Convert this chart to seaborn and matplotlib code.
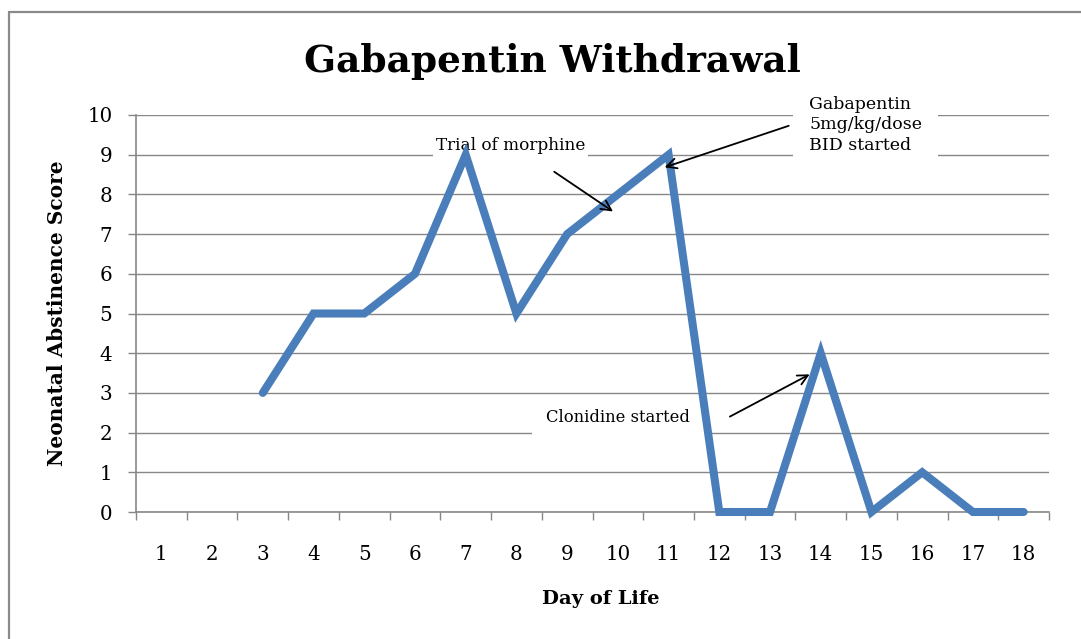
import numpy as np
import pandas as pd
import matplotlib
matplotlib.use("Agg")
import matplotlib.pyplot as plt
from matplotlib.lines import Line2D
import seaborn as sns

# ---- data ----
days = list(range(1, 19))
scores = [np.nan, np.nan, 3, 5, 5, 6, 9, 5, 7, 8, 9, 0, 0, 4, 0, 1, 0, 0]
yticks = list(range(0, 11))
title = "Gabapentin Withdrawal"
xlabel = "Day of Life"
ylabel = "Neonatal Abstinence Score"
notes = ["Trial of morphine", "Gabapentin\n5mg/kg/dose\nBID started", "Clonidine started"]

df = pd.DataFrame({"day": days, "score": scores})

sns.set_style("white")
plt.rcParams["font.family"] = ["DejaVu Serif"]
plt.rcParams["text.color"] = "black"
plt.rcParams["xtick.color"] = "black"
plt.rcParams["ytick.color"] = "black"
plt.rcParams["axes.labelcolor"] = "black"

W, H = 1081, 639
fig = plt.figure(figsize=(W / 100, H / 100), dpi=100)
ax = fig.add_axes([136 / W, 1 - 512 / H, (1049 - 136) / W, (512 - 115) / H])

grid_c = "#878787"
line_c = "#4A7EBB"

sns.lineplot(data=df, x="day", y="score", ax=ax, color=line_c, linewidth=5.8,
             solid_capstyle="round", solid_joinstyle="miter", clip_on=False, zorder=5)

ax.set_xlim(0.5, 18.5)
ax.set_ylim(0, 10)
ax.set_yticks(yticks)
ax.set_yticklabels([str(v) for v in yticks])
ax.set_xticks(days)
ax.set_xticklabels([str(d) for d in days])
ax.set_xticks(np.arange(0.5, 19.0, 1.0), minor=True)

ax.tick_params(axis="y", which="major", direction="out", length=6, width=1.0,
               color=grid_c, pad=11, labelsize=14.3, left=True, labelcolor="black")
ax.tick_params(axis="x", which="major", length=0, pad=24, labelsize=14.3, labelcolor="black")
ax.tick_params(axis="x", which="minor", direction="out", length=5.5, width=1.0,
               color=grid_c, bottom=True)

ax.yaxis.grid(True, color=grid_c, linewidth=1.0)
ax.xaxis.grid(False)
ax.set_axisbelow(True)
for s in ["top", "right"]:
    ax.spines[s].set_visible(False)
for s in ["left", "bottom"]:
    ax.spines[s].set_color(grid_c)
    ax.spines[s].set_linewidth(1.2)

ax.set_xlabel(xlabel, fontsize=14, fontweight="bold")
ax.set_ylabel(ylabel, fontsize=14.5, fontweight="bold")
ax.xaxis.set_label_coords((601 - 136) / 913, (512 - 590) / 397)
ax.yaxis.set_label_coords((67 - 136) / 913, 0.5)

fig.text(552 / W, 1 - 61 / H, title, ha="center", va="center",
         fontsize=27, fontweight="bold")

box = dict(boxstyle="square,pad=0.9", fc="white", ec="none")
arrow = dict(arrowstyle="->", color="black", lw=1.3, mutation_scale=18)

ax.annotate("", xy=(9.95, 7.53), xytext=(8.70, 8.61), arrowprops=arrow, zorder=6)
ax.text(7.88, 9.22, notes[0], fontsize=12.2, ha="center", va="center",
        bbox=dict(boxstyle="square,pad=0.15", fc="white", ec="none"), zorder=4)

ax.annotate("", xy=(10.87, 8.66), xytext=(13.42, 9.75), arrowprops=arrow, zorder=6)
ax.text(13.77, 9.75, notes[1], fontsize=12.5, ha="left", va="center",
        linespacing=1.3, bbox=box, zorder=4, clip_on=False)

ax.annotate("", xy=(13.83, 3.50), xytext=(12.16, 2.37), arrowprops=arrow, zorder=6)
ax.text(10.01, 2.37, notes[2], fontsize=11.8, ha="center", va="center",
        bbox=box, zorder=4)

# outer border
bc = "#8a8a8a"
fig.add_artist(Line2D([9 / W, 9 / W], [0, 1 - 12 / H], color=bc, lw=1.6,
                      transform=fig.transFigure))
fig.add_artist(Line2D([9 / W, 1], [1 - 12 / H, 1 - 12 / H], color=bc, lw=1.6,
                      transform=fig.transFigure))

fig.savefig("out.png", dpi=100)
